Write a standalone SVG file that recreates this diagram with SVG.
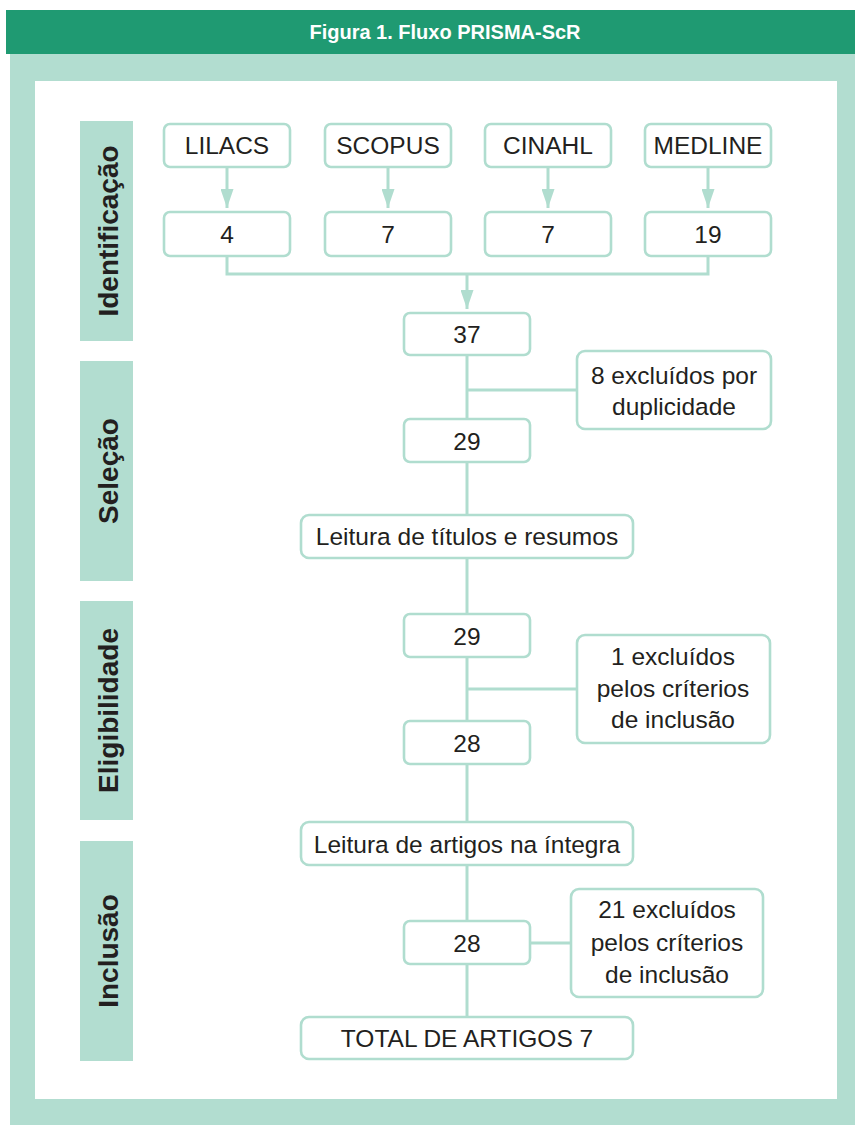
<svg xmlns="http://www.w3.org/2000/svg" width="855" height="1125" viewBox="0 0 855 1125">
  <style>
    .box { fill: #ffffff; stroke: #b0ddcf; stroke-width: 2.6; }
    .band { fill: #b2ddd0; }
    .wire { fill: none; stroke: #b0ddcf; stroke-width: 3; }
    .t { font-family: "Liberation Sans", Arial, sans-serif; font-size: 24.5px; fill: #231f20; text-anchor: middle; }
    .side { font-family: "Liberation Sans", Arial, sans-serif; font-size: 28px; font-weight: bold; fill: #231f20; text-anchor: middle; }
    .title { font-family: "Liberation Sans", Arial, sans-serif; font-size: 20px; font-weight: bold; fill: #ffffff; text-anchor: middle; }
  </style>
  <defs>
    <marker id="arrow" markerUnits="userSpaceOnUse" markerWidth="19" markerHeight="13" refX="19" refY="6.5" orient="auto" viewBox="0 0 19 13">
      <path d="M0,0 L19,6.5 L0,13 Z" fill="#b0ddcf"/>
    </marker>
  </defs>

  <!-- frame -->
  <rect x="10" y="54" width="845" height="1071" fill="#b2ddd0"/>
  <rect x="6" y="10" width="849" height="44" fill="#1f9a72"/>
  <text class="title" x="445" y="39">Figura 1. Fluxo PRISMA-ScR</text>
  <rect x="35" y="81" width="802" height="1018" fill="#ffffff"/>

  <!-- stage bands -->
  <g id="stage-identificacao">
    <rect class="band" x="80" y="121" width="53" height="220"/>
    <text class="side" transform="translate(118,231) rotate(-90)">Identificação</text>
  </g>
  <g id="stage-selecao">
    <rect class="band" x="80" y="361" width="53" height="220"/>
    <text class="side" transform="translate(118,471) rotate(-90)">Seleção</text>
  </g>
  <g id="stage-eligibilidade">
    <rect class="band" x="80" y="601" width="53" height="219"/>
    <text class="side" transform="translate(118,710.5) rotate(-90)">Eligibilidade</text>
  </g>
  <g id="stage-inclusao">
    <rect class="band" x="80" y="841" width="53" height="220"/>
    <text class="side" transform="translate(118,951) rotate(-90)">Inclusão</text>
  </g>

  <!-- connectors -->
  <g id="connectors">
    <line class="wire" x1="227" y1="167" x2="227" y2="208" marker-end="url(#arrow)"/>
    <line class="wire" x1="388" y1="167" x2="388" y2="208" marker-end="url(#arrow)"/>
    <line class="wire" x1="548" y1="167" x2="548" y2="208" marker-end="url(#arrow)"/>
    <line class="wire" x1="708" y1="167" x2="708" y2="208" marker-end="url(#arrow)"/>
    <path class="wire" d="M227,256 V274 H708 V256"/>
    <line class="wire" x1="467" y1="274" x2="467" y2="309" marker-end="url(#arrow)"/>
    <line class="wire" x1="467" y1="355" x2="467" y2="419"/>
    <line class="wire" x1="467" y1="390" x2="577" y2="390"/>
    <line class="wire" x1="467" y1="462" x2="467" y2="515"/>
    <line class="wire" x1="467" y1="558" x2="467" y2="614"/>
    <line class="wire" x1="467" y1="657" x2="467" y2="721"/>
    <line class="wire" x1="467" y1="689" x2="577" y2="689"/>
    <line class="wire" x1="467" y1="764" x2="467" y2="822"/>
    <line class="wire" x1="467" y1="865" x2="467" y2="921"/>
    <line class="wire" x1="530" y1="943" x2="571" y2="943"/>
    <line class="wire" x1="467" y1="964" x2="467" y2="1017"/>
  </g>

  <!-- sources -->
  <g id="n-lilacs"><rect class="box" x="164" y="124" width="126" height="43" rx="6"/><text class="t" x="227" y="154">LILACS</text></g>
  <g id="n-scopus"><rect class="box" x="325" y="124" width="126" height="43" rx="6"/><text class="t" x="388" y="154">SCOPUS</text></g>
  <g id="n-cinahl"><rect class="box" x="485" y="124" width="126" height="43" rx="6"/><text class="t" x="548" y="154">CINAHL</text></g>
  <g id="n-medline"><rect class="box" x="645" y="124" width="126" height="43" rx="6"/><text class="t" x="708" y="154">MEDLINE</text></g>

  <!-- counts per source -->
  <g id="n-lilacs-count"><rect class="box" x="164" y="212" width="126" height="44" rx="6"/><text class="t" x="227" y="243">4</text></g>
  <g id="n-scopus-count"><rect class="box" x="325" y="212" width="126" height="44" rx="6"/><text class="t" x="388" y="243">7</text></g>
  <g id="n-cinahl-count"><rect class="box" x="485" y="212" width="126" height="44" rx="6"/><text class="t" x="548" y="243">7</text></g>
  <g id="n-medline-count"><rect class="box" x="645" y="212" width="126" height="44" rx="6"/><text class="t" x="708" y="243">19</text></g>

  <!-- main flow -->
  <g id="n-total-37"><rect class="box" x="404" y="313" width="126" height="42" rx="6"/><text class="t" x="467" y="343">37</text></g>
  <g id="n-excl-dup"><rect class="box" x="577" y="351" width="194" height="78" rx="8"/><text class="t" x="674" y="384">8 excluídos por</text><text class="t" x="674" y="415">duplicidade</text></g>
  <g id="n-29a"><rect class="box" x="404" y="419" width="126" height="43" rx="6"/><text class="t" x="467" y="450">29</text></g>
  <g id="n-leitura-titulos"><rect class="box" x="301" y="515" width="332" height="43" rx="8"/><text class="t" x="467" y="545">Leitura de títulos e resumos</text></g>
  <g id="n-29b"><rect class="box" x="404" y="614" width="126" height="43" rx="6"/><text class="t" x="467" y="645">29</text></g>
  <g id="n-excl-1"><rect class="box" x="577" y="635" width="193" height="108" rx="8"/><text class="t" x="673" y="665">1 excluídos</text><text class="t" x="673" y="697">pelos críterios</text><text class="t" x="673" y="728">de inclusão</text></g>
  <g id="n-28a"><rect class="box" x="404" y="721" width="126" height="43" rx="6"/><text class="t" x="467" y="752">28</text></g>
  <g id="n-leitura-artigos"><rect class="box" x="301" y="822" width="332" height="43" rx="8"/><text class="t" x="467" y="853">Leitura de artigos na íntegra</text></g>
  <g id="n-28b"><rect class="box" x="404" y="921" width="126" height="43" rx="6"/><text class="t" x="467" y="952">28</text></g>
  <g id="n-excl-21"><rect class="box" x="571" y="889" width="192" height="108" rx="8"/><text class="t" x="667" y="918">21 excluídos</text><text class="t" x="667" y="951">pelos críterios</text><text class="t" x="667" y="983">de inclusão</text></g>
  <g id="n-final"><rect class="box" x="301" y="1017" width="332" height="42" rx="8"/><text class="t" x="467" y="1047">TOTAL DE ARTIGOS 7</text></g>
</svg>
